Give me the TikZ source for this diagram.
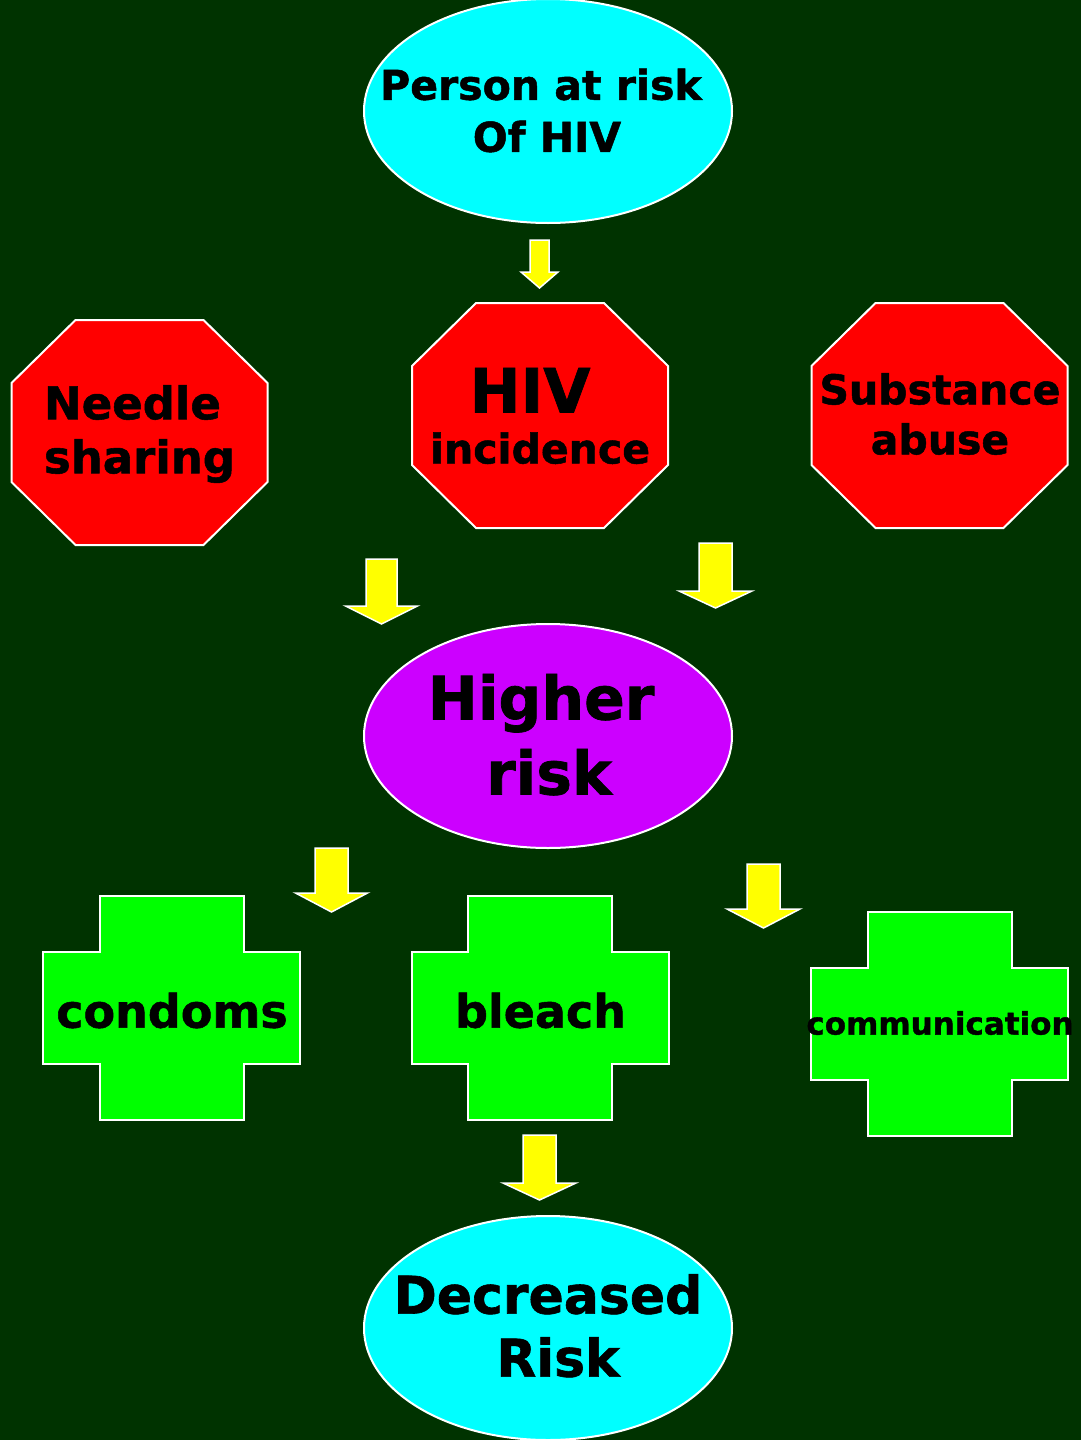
\documentclass[tikz,border=0pt]{standalone}
\usepackage{fontspec}
\setmainfont{DejaVu Sans}[BoldFeatures={FakeBold=1.2}]
\usetikzlibrary{shapes.geometric}

\definecolor{bgdark}{HTML}{003300}
\definecolor{skycyan}{HTML}{00FFFF}
\definecolor{stopred}{HTML}{FF0000}
\definecolor{riskpurple}{HTML}{CC00FF}
\definecolor{plusgreen}{HTML}{00FF00}
\definecolor{arrowyellow}{HTML}{FFFF00}

\tikzset{
  oval/.style={ellipse, draw=white, line width=2pt, minimum width=368pt, minimum height=224pt, inner sep=0pt},
  word/.style={align=center, inner sep=0pt},
  fatarrow/.style={draw=white, fill=arrowyellow, line width=1.5pt},
  pics/stop/.style={code={
    \filldraw[draw=white, fill=stopred, line width=2pt]
      (-64,-112.5) -- (64,-112.5) -- (128,-49.5) -- (128,49.5) -- (64,112.5)
      -- (-64,112.5) -- (-128,49.5) -- (-128,-49.5) -- cycle;
  }},
  pics/plus/.style={code={
    \filldraw[draw=white, fill=plusgreen, line width=2pt]
      (-72,-112) -- (72,-112) -- (72,-56) -- (128.5,-56) -- (128.5,56) -- (72,56)
      -- (72,112) -- (-72,112) -- (-72,56) -- (-128.5,56) -- (-128.5,-56) -- (-72,-56) -- cycle;
  }}
}

% x, top, head base, tip, half shaft, half head
\newcommand{\fatarrow}[6]{%
  \filldraw[fatarrow] (#1-#5,#2) -- (#1+#5,#2) -- (#1+#5,#3) -- (#1+#6,#3)
    -- (#1,#4) -- (#1-#6,#3) -- (#1-#5,#3) -- cycle;}

\begin{document}
\begin{tikzpicture}[x=1pt, y=-1pt]
\fill[bgdark] (0,0) rectangle (1081,1440);
\useasboundingbox (0,0) rectangle (1081,1440);

% person at risk
\node[oval, fill=skycyan] (atrisk) at (548,111) {};
\node[word, font=\fontsize{41}{52}\selectfont\bfseries] (atrisktext) at (541,110.5)
  {Person at risk\\\hspace*{12pt}Of HIV};

\fatarrow{539.5}{240}{272}{288}{9.5}{18.5}

% risk factors
\pic at (139.5,432.5) {stop};
\node[word, font=\fontsize{45}{54}\selectfont\bfseries] (needle) at (139.5,434)
  {Needle\hspace{14pt}\mbox{}\\sharing};
\pic at (540,415.5) {stop};
\node[word, font=\fontsize{41}{51}\selectfont\bfseries] (hiv) at (540,416)
  {{\fontsize{61}{61}\selectfont HIV\hspace{20pt}\mbox{}}\\incidence};
\pic at (939.5,415.5) {stop};
\node[word, font=\fontsize{41}{50}\selectfont\bfseries] (abuse) at (940,414)
  {Substance\\abuse};

\fatarrow{381.5}{559}{606}{624}{15.5}{36}
\fatarrow{715.5}{543}{591}{608}{16.5}{36.5}

% higher risk
\node[oval, fill=riskpurple] (higher) at (548,736) {};
\node[word, font=\fontsize{60}{75}\selectfont\bfseries] (highertext) at (549,734.7)
  {Higher\hspace{16pt}\mbox{}\\risk};

\fatarrow{331.5}{848}{893}{912}{16.5}{36}
\fatarrow{763.5}{864}{909}{928}{16.5}{36.5}

% prevention
\pic at (171.5,1008) {plus};
\node[word, font=\fontsize{46}{46}\selectfont\bfseries] (condoms) at (172,1010.5) {condoms};
\pic at (540,1008) {plus};
\node[word, font=\fontsize{46}{46}\selectfont\bfseries] (bleach) at (540.5,1010.5) {bleach};
\pic at (939.5,1024) {plus};
\node[word, font=\fontsize{31}{31}\selectfont\bfseries] (talk) at (940,1023) {communication};

\fatarrow{539.5}{1135}{1183}{1200}{16.5}{36.5}

% outcome
\node[oval, fill=skycyan] (decreased) at (548,1328) {};
\node[word, font=\fontsize{52}{63}\selectfont\bfseries] (decreasedtext) at (548,1325.75)
  {Decreased\\\hspace*{20pt}Risk};
\end{tikzpicture}
\end{document}
